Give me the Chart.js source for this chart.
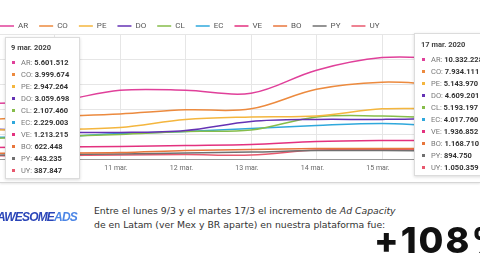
<!DOCTYPE html>
<html>
<head>
<meta charset="utf-8">
<script src="https://cdn.jsdelivr.net/npm/chart.js@4.4.1/dist/chart.umd.min.js"></script>
<style>
  html, body { margin: 0; padding: 0; background: #fff; }
  body { width: 480px; height: 270px; overflow: hidden; position: relative; font-family: Roboto, sans-serif; }
  #card { position: absolute; left: 0; top: 0; width: 480px; height: 182px; border-bottom: 1px solid #d6d6d6; box-shadow: 0 1px 2px rgba(0,0,0,0.10); overflow: hidden; background: #fff; }
  #chartWrap { position: absolute; left: -21px; top: 0; width: 545px; height: 176px; }
  .tip { position: absolute; background: #fff; border: 1px solid #dcdcdc; box-shadow: 0 1px 3px rgba(0,0,0,0.15); font-size: 7.5px; color: #777; box-sizing: border-box; padding-left: 5px; }
  .tip .title { font-weight: bold; color: #444; height: 12px; line-height: 12px; }
  .tip .row { height: 12px; line-height: 12px; white-space: nowrap; }
  .tip .dot { display: inline-block; width: 3px; height: 3px; margin: 0 6px 1px 1px; vertical-align: middle; }
  .tip b { color: #333; }
  #logo { position: absolute; left: -3px; top: 210px; font-family: "Liberation Sans", Arial, sans-serif; font-weight: bold; font-style: italic; font-size: 12px; letter-spacing: -0.8px; white-space: nowrap; }
  #logo .a { color: #2a45b8; }
  #logo .b { color: #4c86e6; }
  #note { position: absolute; left: 94px; top: 204px; font-family: "DejaVu Sans", sans-serif; font-size: 9.3px; line-height: 14px; color: #333; white-space: nowrap; }
  #big { position: absolute; left: 374px; top: 215px; font-family: Inter, sans-serif; font-weight: 800; font-size: 36px; line-height: 50px; color: #111; white-space: nowrap; letter-spacing: 2px; }
</style>
</head>
<body>
<div id="card">
  <div id="chartWrap"><canvas id="chart"></canvas></div>
  <div class="tip" id="tipLeft" style="left:5px; top:37px; width:75px; height:142px; padding-top:4px;"></div>
  <div class="tip" id="tipRight" style="left:414px; top:33px; width:90px; height:143px; padding-top:5px; padding-left:6px;"></div>
</div>
<div id="logo"><span class="a">AWESOME</span><span class="b">ADS</span></div>
<div id="note">Entre el lunes 9/3 y el martes 17/3 el incremento de <i>Ad Capacity</i><br>de en Latam (ver Mex y BR aparte) en nuestra plataforma fue:</div>
<div id="big">+108%</div>

<script>
const days = ["9 mar.", "10 mar.", "11 mar.", "12 mar.", "13 mar.", "14 mar.", "15 mar.", "16 mar.", "17 mar."];
const firstDay = "9 mar. 2020";
const lastDay = "17 mar. 2020";

const countries = ["AR", "CO", "PE", "DO", "CL", "EC", "VE", "BO", "PY", "UY"];
const colors = ["#e0409a", "#ec8a3e", "#f4b63e", "#6532b4", "#86bd4a", "#2fa8dc", "#e3317f", "#e8763c", "#707070", "#e8586e"];

// ad capacity por dia (9 al 17 de marzo)
const AR = [5601512, 5800000, 6900000, 6900000, 6600000, 8900000, 10150000, 10100000, 10332228];
const CO = [3999674, 4300000, 4550000, 4950000, 5050000, 7000000, 7700000, 7500000, 7934111];
const PE = [2947264, 3000000, 3200000, 4000000, 4250000, 4350000, 5050000, 5050000, 5143970];
const DO = [3059698, 2750000, 2700000, 2900000, 3800000, 4000000, 4000000, 4150000, 4609201];
const CL = [2107460, 2300000, 2500000, 2800000, 2950000, 4250000, 4350000, 4250000, 5193197];
const EC = [2229003, 2250000, 2600000, 2800000, 3100000, 3400000, 3600000, 3400000, 4017760];
const VE = [1213215, 1250000, 1300000, 1400000, 1500000, 1800000, 1900000, 1900000, 1936852];
const BO = [622448, 650000, 700000, 900000, 1000000, 1100000, 1100000, 1100000, 1168710];
const PY = [443235, 500000, 550000, 650000, 750000, 900000, 900000, 850000, 894750];
const UY = [387847, 400000, 450000, 500000, 450000, 950000, 1000000, 1000000, 1050359];

const series = [AR, CO, PE, DO, CL, EC, VE, BO, PY, UY];

const yMax = 12500000;
const yStep = 2500000;

function fmt(n) {
    return String(n).replace(/\B(?=(\d{3})+(?!\d))/g, ".");
}

function fillTip(id, title, idx) {
    let box = document.getElementById(id);
    let html = '<div class="title">' + title + '</div><div style="height:3px"></div>';
    countries.forEach((c, i) => {
        html += '<div class="row"><span class="dot" style="background:' + colors[i] + '"></span>' +
            c + ': <b>' + fmt(series[i][idx]) + '</b></div>';
    });
    box.innerHTML = html;
}
fillTip("tipLeft", firstDay, 0);
fillTip("tipRight", lastDay, days.length - 1);

// leyenda un poco mas pegada al grafico
const legendTighten = {
    id: "legendTighten",
    beforeInit(chart) {
        const origFit = chart.legend.fit;
        chart.legend.fit = function () {
            origFit.bind(chart.legend)();
            this.height -= 6;
        };
    }
};

const ctx = document.getElementById("chart").getContext("2d");
const chart = new Chart(ctx, {
    type: "line",
    data: {
        labels: days,
        datasets: countries.map((c, i) => ({
            label: c,
            data: series[i],
            borderColor: colors[i],
            backgroundColor: colors[i],
            borderWidth: 1.5,
            pointRadius: 0,
            tension: 0.35,
            fill: false
        }))
    },
    options: {
        responsive: true,
        maintainAspectRatio: false,
        animation: false,
        events: [],
        layout: { padding: { left: 10, right: 11, top: 11, bottom: 0 } },
        plugins: {
            tooltip: { enabled: false },
            legend: {
                position: "top",
                align: "start",
                labels: {
                    usePointStyle: true,
                    pointStyle: "line",
                    pointStyleWidth: 14,
                    padding: 11,
                    color: "#555",
                    font: { family: "Roboto", size: 8 }
                }
            }
        },
        scales: {
            x: {
                grid: { color: "#e6e6e6", drawTicks: false },
                border: { color: "#9a9a9a" },
                ticks: {
                    autoSkip: false,
                    maxRotation: 0,
                    padding: 4,
                    labelOffset: -4,
                    color: "#666",
                    font: { family: "Roboto", size: 7 },
                    callback: function (v, i) {
                        return (i === 0 || i === days.length - 1) ? "" : days[i];
                    }
                }
            },
            y: {
                min: 0,
                max: yMax,
                ticks: { display: false, stepSize: yStep },
                grid: { color: "#e6e6e6", drawTicks: false },
                border: { display: false }
            }
        }
    },
    plugins: [legendTighten]
});
</script>
</body>
</html>
